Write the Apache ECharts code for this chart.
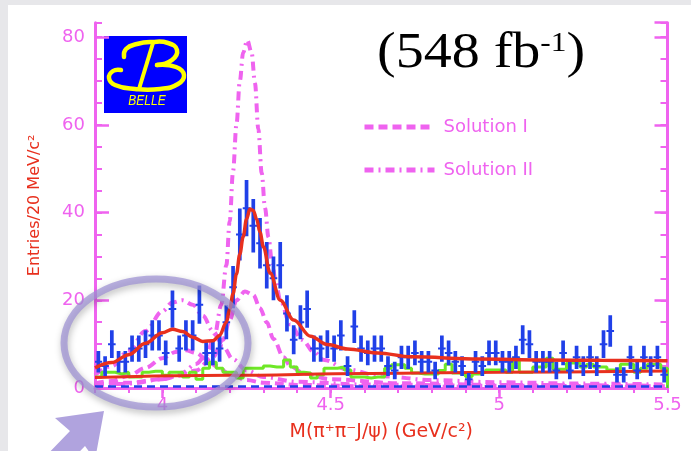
<!DOCTYPE html>
<html><head><meta charset="utf-8">
<script src="https://cdn.jsdelivr.net/npm/echarts@6/dist/echarts.min.js"></script>
<style>html,body{margin:0;padding:0;background:#e7e7ea}#c{width:691px;height:451px}</style>
</head><body><div id="c"></div>
<script>
// ---------- data ----------
const binStart = 3.8, binWidth = 0.02;          // 85 bins of 20 MeV, 3.80 .. 5.50 GeV
const counts = [6,5,10,6,6,9,9,10,12,12, 8,18,9,12,12,19,8,8,9,15,
  23,35,41,37,33,28,25,28,17,11, 15,18,9,9,10,9,12,5,14,9,
  8,9,9,5,4,7,7,8,6,6, 4,9,8,6,5,2,6,5,8,8,
  6,6,7,11,10,6,6,6,4,8, 4,7,5,7,5,10,13,3,3,7, 4,7,5,7,3];
const sidebandHist = [2.5,3.6,3.6,3.2,3.6,2.5,2.5,3.6,3.8,3.8, 2.9,3.6,3.6,2.5,3.6,2.0,4.5,5.9,4.5,3.6,
  3.6,2.3,4.5,4.5,4.5,5.0,4.8,4.8,6.4,4.8, 3.6,3.4,2.3,3.0,4.5,4.5,4.8,4.1,2.5,2.5,
  2.3,2.5,2.5,4.5,5.3,5.3,4.5,3.4,3.2,3.2, 3.2,4.0,5.4,3.4,3.2,2.6,3.2,3.6,4.1,4.1,
  4.1,3.6,6.8,3.6,3.6,4.8,4.8,6.8,4.3,4.3, 5.7,5.7,4.8,5.4,4.8,4.8,4.1,4.1,5.4,5.4, 3.6,4.5,5.4,5.4,4.5];
const fitX = [3.80,3.85,3.90,3.95,4.00,4.03,4.06,4.09,4.12,4.15,4.17,4.19,4.20,4.21,4.22,4.23,4.24,4.25,4.26,4.27,4.28,4.29,4.30,4.32,4.35,4.39,4.44,4.49,4.55,4.64,4.74,4.94,5.13,5.30,5.50];
const fitY = [4.6,5.8,7.6,10.2,12.6,13.4,12.9,11.6,10.6,10.8,12.0,15.0,18.0,21.5,26.0,30.5,34.5,38.5,40.8,40.5,38.5,35.5,32.2,26.2,20.0,15.5,11.8,9.9,8.9,8.0,7.1,6.6,6.4,6.3,6.2];
const bgX = [3.8,4.2,4.6,5.0,5.5];
const bgY = [2.4,2.9,3.3,3.6,3.9];
const sol1LowX  = [3.80,3.85,3.90,3.95,4.00,4.04,4.07,4.10,4.13,4.16,4.20,4.25,4.30,4.40,4.60,5.00,5.50];
const sol1LowY  = [1.0,1.6,2.8,4.6,6.8,8.2,8.6,8.0,6.6,5.0,3.2,1.8,1.2,0.7,0.4,0.25,0.2];
const sol1HighX = [3.80,3.90,4.00,4.05,4.10,4.15,4.18,4.20,4.22,4.245,4.27,4.29,4.31,4.33,4.36,4.38,4.42,4.50,4.70,5.00,5.50];
const sol1HighY = [0.8,1.2,2.0,2.8,4.0,7.0,11.0,15.5,20.0,22.0,21.2,18.2,15.0,11.2,7.0,5.0,3.3,2.0,1.1,0.7,0.5];
const sol2LowX  = [3.80,3.85,3.90,3.95,4.00,4.03,4.06,4.09,4.12,4.15,4.18,4.21,4.25,4.30,4.40,4.60,5.00,5.50];
const sol2LowY  = [3.0,5.0,8.5,13.0,17.5,19.5,20.0,19.0,16.5,13.0,9.5,6.5,4.0,2.5,1.4,0.8,0.5,0.4];
const sol2HighX = [3.80,3.90,4.00,4.06,4.10,4.13,4.155,4.175,4.19,4.20,4.21,4.22,4.23,4.24,4.252,4.265,4.275,4.285,4.295,4.305,4.315,4.326,4.336,4.35,4.38,4.415,4.45,4.48,4.55,4.65,4.80,5.00,5.25,5.50];
const sol2HighY = [0.6,1.0,2.0,3.5,5.5,7.5,12.0,19.0,28.0,38.0,49.5,60.0,70.0,76.5,79.3,76.5,69.5,59.0,49.0,41.0,34.4,28.5,24.5,20.0,14.5,11.0,8.2,6.4,4.2,2.7,1.8,1.3,1.0,0.8];
const xTickLabels = [4, 4.5, 5, 5.5];
const topMajorTicks = [4, 4.5, 5];
const legendNames = ['Solution I', 'Solution II'];

// ---------- styling ----------
const MAG = '#ef63ef', RED = '#e8301e', BLUE = '#2040e8', GREEN = '#6ee826';
const X0 = 3.8, X1 = 5.5, YMAX = 83.3;

function pairs(xs, ys) { return xs.map((x, i) => [x, ys[i]]); }
function curve(name, xs, ys, color, width, dash, z) {
  return { type: 'line', name, data: pairs(xs, ys), symbol: 'none', showSymbol: false,
    smooth: 0.35, smoothMonotone: 'x', clip: true, silent: true, z,
    lineStyle: { color, width, type: dash, cap: 'butt' }, itemStyle: { color } };
}

const histData = sidebandHist.map((v, i) => [binStart + binWidth * i, v]);
histData.push([X1, sidebandHist[sidebandHist.length - 1]], [X1, 0]);

const dataPts = counts.map((c, i) => [binStart + binWidth * (i + 0.5), c, Math.sqrt(c)]);

const DASH1 = [9, 5], DASH2 = [9, 5, 2, 5];

const chart = echarts.init(document.getElementById('c'));
chart.setOption({
  animation: false,
  backgroundColor: '#e7e7ea',
  grid: { left: 95, right: 23.5, top: 22.7, bottom: 63 },
  legend: {
    data: legendNames, orient: 'vertical', left: 362, top: 118, padding: 0,
    itemWidth: 70, itemHeight: 14, itemGap: 25, selectedMode: false,
    lineStyle: { width: 5 },
    itemStyle: { color: 'rgba(0,0,0,0)', borderColor: 'rgba(0,0,0,0)', borderWidth: 0, opacity: 0 },
    textStyle: { color: MAG, fontSize: 18, fontFamily: 'DejaVu Sans', padding: [0, 0, 0, 4] }
  },
  xAxis: [
    { type: 'value', position: 'bottom', min: X0, max: X1,
      axisLine: { show: false }, axisTick: { show: false }, splitLine: { show: false },
      axisLabel: { customValues: xTickLabels, color: MAG, fontSize: 18, fontFamily: 'DejaVu Sans', margin: 8 },
      name: 'M(π⁺π⁻J/ψ) (GeV/c²)', nameLocation: 'middle', nameGap: 35,
      nameTextStyle: { color: RED, fontSize: 19, fontFamily: 'DejaVu Sans' } },
    { type: 'value', position: 'top', min: X0, max: X1, interval: 0.1,
      axisLine: { show: true, lineStyle: { color: MAG, width: 3 } },
      axisTick: { inside: true, length: 5, lineStyle: { color: MAG, width: 2 } },
      axisLabel: { show: false }, splitLine: { show: false } },
    { type: 'value', position: 'top', min: X0, max: X1,
      axisLine: { show: false },
      axisTick: { inside: true, length: 10, customValues: topMajorTicks, lineStyle: { color: MAG, width: 2.5 } },
      axisLabel: { show: false }, splitLine: { show: false } }
  ],
  yAxis: [
    { type: 'value', position: 'left', min: 0, max: YMAX, interval: 20,
      axisLine: { show: true, lineStyle: { color: MAG, width: 3 } },
      axisTick: { inside: true, length: 14, lineStyle: { color: MAG, width: 2.5 } },
      axisLabel: { color: MAG, fontSize: 18, fontFamily: 'DejaVu Sans', margin: 10, showMaxLabel: false },
      splitLine: { show: false },
      name: 'Entries/20 MeV/c²', nameLocation: 'middle', nameGap: 52,
      nameTextStyle: { color: RED, fontSize: 16, fontFamily: 'DejaVu Sans' } },
    { type: 'value', position: 'left', min: 0, max: YMAX, interval: 5,
      axisLine: { show: false },
      axisTick: { inside: true, length: 7, lineStyle: { color: MAG, width: 2 } },
      axisLabel: { show: false }, splitLine: { show: false } },
    { type: 'value', position: 'right', min: 0, max: YMAX, interval: 20,
      axisLine: { show: true, lineStyle: { color: MAG, width: 3 } },
      axisTick: { inside: true, length: 13, lineStyle: { color: MAG, width: 2.5 } },
      axisLabel: { show: false }, splitLine: { show: false } },
    { type: 'value', position: 'right', min: 0, max: YMAX, interval: 5,
      axisLine: { show: false },
      axisTick: { inside: true, length: 7, lineStyle: { color: MAG, width: 2 } },
      axisLabel: { show: false }, splitLine: { show: false } }
  ],
  series: [
    { type: 'line', name: 'Sideband', data: histData, step: 'end', symbol: 'none', clip: true, z: 3, silent: true,
      lineStyle: { color: GREEN, width: 3 }, itemStyle: { color: GREEN } },
    curve('Solution I', sol1LowX, sol1LowY, MAG, 4, DASH1, 2),
    curve('Solution I', sol1HighX, sol1HighY, MAG, 4, DASH1, 2),
    curve('Solution II', sol2LowX, sol2LowY, MAG, 4, DASH2, 2),
    curve('Solution II', sol2HighX, sol2HighY, MAG, 4, DASH2, 2),
    { type: 'line', name: 'zero', data: [[X0, 0.35], [X1, 0.35]], symbol: 'none', z: 3, silent: true,
      lineStyle: { color: BLUE, width: 2.5, type: [8, 5] } },
    curve('Background', bgX, bgY, RED, 3, 'solid', 4),
    { type: 'custom', name: 'Data', data: dataPts, clip: true, z: 5, silent: true,
      renderItem(params, api) {
        const x = api.value(0), y = api.value(1), e = api.value(2);
        const t = api.coord([x, y + e]), b = api.coord([x, y - e]), m = api.coord([x, y]);
        return { type: 'group', children: [
          { type: 'line', shape: { x1: t[0], y1: t[1], x2: b[0], y2: b[1] }, style: { stroke: BLUE, lineWidth: 3.7 } },
          { type: 'line', shape: { x1: m[0] - 3.8, y1: m[1], x2: m[0] + 3.8, y2: m[1] }, style: { stroke: BLUE, lineWidth: 2 } }
        ] };
      } },
    curve('Fit', fitX, fitY, RED, 3.5, 'solid', 6)
  ],
  graphic: [
    { type: 'rect', z: -10, shape: { x: 8, y: 5, width: 683, height: 446 }, style: { fill: '#ffffff' } },
    { type: 'group', z: 50, children: [
      { type: 'rect', shape: { x: 104, y: 36, width: 83, height: 77 }, style: { fill: '#0000ff' } },
      { type: 'polyline', shape: { points: [[124,57],[126,49],[137,44],[152,42],[168,43],[177,50],[172,60],[157,65]], smooth: 0.5 },
        style: { stroke: '#ffff00', lineWidth: 4.5, fill: null, lineCap: 'round' } },
      { type: 'polyline', shape: { points: [[157,65],[176,67],[184,75],[178,84],[160,89],[135,89],[115,85],[109,78],[113,71],[121,70]], smooth: 0.5 },
        style: { stroke: '#ffff00', lineWidth: 4.5, fill: null, lineCap: 'round' } },
      { type: 'line', shape: { x1: 153, y1: 43, x2: 139, y2: 89 }, style: { stroke: '#ffff00', lineWidth: 4 } },
      { type: 'text', x: 147, y: 101, scaleX: 0.8, style: { text: 'BELLE', fill: '#ffff00', font: 'italic 15px "Liberation Sans"', align: 'center', verticalAlign: 'middle' } }
    ] },
    { type: 'text', z: 50, x: 377, y: 29, scaleX: 1.12,
      style: { text: '{a|(548 fb}{s|-1}{a|)}', fill: '#000',
        rich: { a: { fontSize: 50, fontFamily: 'Liberation Serif', fill: '#000' },
                s: { fontSize: 28, fontFamily: 'Liberation Serif', fill: '#000', verticalAlign: 'top', padding: [1, 0, 0, 0] } } } },
    { type: 'ellipse', z: 100, shape: { cx: 156, cy: 343, rx: 92, ry: 64 },
      style: { fill: null, stroke: 'rgba(158,146,212,0.72)', lineWidth: 7,
        shadowBlur: 7, shadowColor: 'rgba(0,0,0,0.35)', shadowOffsetX: 1, shadowOffsetY: 3 } },
    { type: 'polygon', z: 100, shape: { points: [[104,411],[55,418],[70,431],[42,460],[58,474],[85,446],[95,460]] },
      style: { fill: 'rgba(172,158,220,0.95)' } }
  ]
});
</script>
</body></html>
